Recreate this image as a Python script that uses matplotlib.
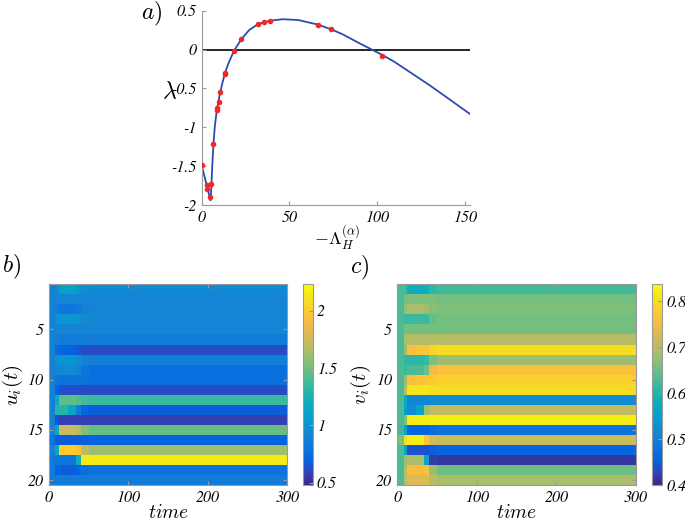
import numpy as np
import matplotlib
matplotlib.use("Agg")
import matplotlib.pyplot as plt
from matplotlib.colors import LinearSegmentedColormap

plt.rcParams['mathtext.fontset'] = 'cm'
plt.rcParams['axes.unicode_minus'] = False
plt.rcParams['font.family'] = ['STIXGeneral', 'DejaVu Serif']
plt.rcParams['font.style'] = 'italic'
plt.rcParams['font.size'] = 11

# ---------------- data: panel a ----------------
curve_x = [0, 1, 2, 3, 4, 4.6, 5.0, 5.3, 5.6, 6.0, 6.7, 7.5, 8.6, 9.6, 10.5, 12, 13.2, 15,
           18.3, 22.5, 27, 32.3, 38.8, 46, 55, 66.5, 73.8, 80, 90, 97, 103, 110, 120, 130, 140, 153]
curve_y = [-1.49, -1.58, -1.67, -1.76, -1.85, -1.90, -1.94, -1.85, -1.70, -1.50, -1.21, -0.98,
           -0.78, -0.66, -0.55, -0.41, -0.31, -0.19, -0.02, 0.13, 0.25, 0.33, 0.37, 0.39, 0.38,
           0.32, 0.26, 0.20, 0.08, 0.0, -0.07, -0.16, -0.31, -0.46, -0.62, -0.83]
pts_x = [0, 2.9, 3.2, 4.6, 5.5, 6.7, 8.6, 8.8, 9.6, 10.5, 13.0, 13.2, 18.3, 22.5, 32.3, 35.4,
         38.8, 66.5, 73.8, 103]
pts_y = [-1.49, -1.745, -1.80, -1.90, -1.73, -1.21, -0.78, -0.75, -0.67, -0.55, -0.32, -0.30,
         -0.02, 0.13, 0.33, 0.35, 0.37, 0.32, 0.26, -0.08]
a_xticks = [0, 50, 100, 150]
a_yticks = [-2, -1.5, -1, -0.5, 0, 0.5]
a_yticklabels = ['-2', '-1.5', '-1', '-0.5', '0', '0.5']

# ---------------- data: panels b, c ----------------
time_edges = [0, 8, 12, 24, 34, 40, 50, 300]
node_rows = list(range(1, 21))

u_t0 = [0.90, 0.90, 0.90, 0.90, 0.90, 0.90, 0.90, 0.90, 0.90, 0.90, 0.90, 0.90, 0.90, 0.90, 0.90, 0.80, 0.90, 0.85, 0.85, 0.85]
u_t1 = [0.95, 0.92, 0.85, 0.98, 0.92, 0.88, 0.75, 0.98, 0.92, 0.82, 0.70, 1.15, 1.30, 0.65, 1.15, 0.68, 1.15, 0.82, 0.70, 0.85]
u_t2 = [1.10, 0.92, 0.82, 1.02, 0.92, 0.86, 0.70, 1.00, 0.95, 0.80, 0.64, 1.45, 1.30, 0.58, 1.75, 0.68, 2.00, 0.82, 0.68, 0.85]
u_t3 = [1.10, 0.92, 0.82, 1.02, 0.92, 0.86, 0.70, 1.00, 0.95, 0.80, 0.62, 1.45, 1.15, 0.58, 1.75, 0.68, 2.00, 0.82, 0.68, 0.85]
u_t4 = [1.02, 0.92, 0.85, 1.00, 0.92, 0.86, 0.66, 0.96, 0.90, 0.80, 0.62, 1.42, 0.85, 0.58, 1.68, 0.68, 1.95, 1.20, 0.70, 0.85]
u_t5 = [0.97, 0.92, 0.90, 0.95, 0.92, 0.86, 0.63, 0.90, 0.82, 0.79, 0.62, 1.38, 0.72, 0.58, 1.52, 0.69, 1.68, 2.15, 0.78, 0.85]
u_fin = [0.95, 0.92, 0.92, 0.92, 0.92, 0.85, 0.62, 0.88, 0.78, 0.78, 0.62, 1.36, 0.68, 0.58, 1.47, 0.70, 1.62, 2.15, 0.80, 0.85]

v_t0 = [0.63, 0.63, 0.63, 0.63, 0.63, 0.63, 0.63, 0.63, 0.63, 0.63, 0.63, 0.63, 0.63, 0.63, 0.62, 0.66, 0.63, 0.63, 0.63, 0.63]
v_t1 = [0.62, 0.655, 0.67, 0.62, 0.655, 0.69, 0.68, 0.61, 0.62, 0.68, 0.70, 0.57, 0.55, 0.66, 0.56, 0.80, 0.56, 0.68, 0.70, 0.70]
v_t2 = [0.58, 0.66, 0.69, 0.62, 0.655, 0.70, 0.76, 0.61, 0.63, 0.76, 0.81, 0.51, 0.52, 0.82, 0.46, 0.82, 0.44, 0.69, 0.76, 0.73]
v_t3 = [0.58, 0.66, 0.69, 0.62, 0.655, 0.70, 0.77, 0.61, 0.63, 0.77, 0.81, 0.51, 0.56, 0.82, 0.46, 0.82, 0.44, 0.69, 0.76, 0.73]
v_t4 = [0.58, 0.66, 0.68, 0.62, 0.655, 0.70, 0.77, 0.62, 0.65, 0.77, 0.81, 0.51, 0.68, 0.82, 0.46, 0.77, 0.44, 0.56, 0.76, 0.73]
v_t5 = [0.61, 0.66, 0.665, 0.645, 0.655, 0.70, 0.79, 0.66, 0.75, 0.78, 0.80, 0.515, 0.71, 0.82, 0.47, 0.72, 0.45, 0.42, 0.68, 0.70]
v_fin = [0.625, 0.655, 0.66, 0.655, 0.655, 0.70, 0.80, 0.68, 0.765, 0.785, 0.80, 0.52, 0.71, 0.82, 0.48, 0.715, 0.46, 0.415, 0.65, 0.69]

heat_xticks = [0, 100, 200, 300]
heat_yticks = [5, 10, 15, 20]
u_cticks = [0.5, 1, 1.5, 2]
u_cticklabels = ['0.5', '1', '1.5', '2']
v_cticks = [0.4, 0.5, 0.6, 0.7, 0.8]
v_cticklabels = ['0.4', '0.5', '0.6', '0.7', '0.8']

# ---------------- parula-like colormap ----------------
parula_pts = [
    (0.2081, 0.1663, 0.5292), (0.1959, 0.2645, 0.7279), (0.0117, 0.3875, 0.8820),
    (0.0498, 0.4586, 0.8641), (0.0793, 0.5200, 0.8312), (0.0343, 0.5966, 0.8199),
    (0.0228, 0.6535, 0.7768), (0.0843, 0.6928, 0.7062), (0.2178, 0.7250, 0.6193),
    (0.3953, 0.7459, 0.5244), (0.5709, 0.7485, 0.4494), (0.7184, 0.7411, 0.3905),
    (0.8507, 0.7299, 0.3360), (0.9739, 0.7314, 0.2666), (0.9880, 0.8066, 0.1794),
    (0.9589, 0.8949, 0.1132), (0.9763, 0.9831, 0.0538)]
parula = LinearSegmentedColormap.from_list('parula', parula_pts, N=256)

spine_col = '#9a9a9a'

fig = plt.figure(figsize=(6.85, 5.21), dpi=100)

# ---------------- panel a ----------------
ax = fig.add_axes([0.2945, 0.6065, 0.3917, 0.373])
ax.plot(curve_x, curve_y, color='#2c4bb0', lw=1.3, zorder=2)
ax.axhline(0, color='black', lw=1.2, zorder=1)
ax.plot(pts_x, pts_y, 'o', color='#f02828', ms=4, mec='none', zorder=3)
ax.set_xlim(0, 153)
ax.set_ylim(-2, 0.5)
ax.set_xticks(a_xticks)
ax.set_yticks(a_yticks)
ax.set_yticklabels(a_yticklabels)
for s in ['top', 'right']:
    ax.spines[s].set_visible(False)
for s in ['left', 'bottom']:
    ax.spines[s].set_color(spine_col)
    ax.spines[s].set_linewidth(0.8)
ax.tick_params(direction='in', length=3, color=spine_col, pad=4, labelsize=11.5)
fig.text(170 / 685, 1 - 92 / 521, r'$\lambda$', fontsize=17, ha='center', va='center')
fig.text(337 / 685, 1 - 238 / 521, r'$-\Lambda_H^{(\alpha)}$', fontsize=13, ha='center', va='center')
fig.text(152 / 685, 1 - 14 / 521, r'$a)$', fontsize=17, ha='center', va='center')


def heat(rect, crect, rows, vmin, vmax, cticks, cticklabels, ylabel, panel, ppos):
    axh = fig.add_axes(rect)
    Z = np.array(rows).T
    yedges = np.arange(0.5, len(node_rows) + 1, 1.0)
    m = axh.pcolormesh(time_edges, yedges, Z, cmap=parula, vmin=vmin, vmax=vmax,
                       shading='flat', antialiased=False, linewidth=0, rasterized=True)
    axh.set_xlim(0, 300)
    axh.set_ylim(20.5, 0.5)
    axh.set_xticks(heat_xticks)
    axh.set_yticks(heat_yticks)
    for s in axh.spines.values():
        s.set_color(spine_col)
        s.set_linewidth(0.8)
    axh.tick_params(direction='in', length=3, color=spine_col, top=True, right=True, pad=4,
                    labelsize=11.5)
    axh.set_xlabel(r'$time$', fontsize=14, labelpad=-1)
    axh.set_ylabel(ylabel, fontsize=15, labelpad=2)
    cax = fig.add_axes(crect)
    cb = fig.colorbar(m, cax=cax, ticks=cticks)
    cb.ax.set_yticklabels(cticklabels)
    cb.outline.set_edgecolor(spine_col)
    cb.outline.set_linewidth(0.8)
    cax.tick_params(direction='in', length=3, color=spine_col, pad=3, labelsize=11.5)
    fig.text(ppos[0] / 685, 1 - ppos[1] / 521, panel, fontsize=17, ha='center', va='center')


u_cols = [u_t0, u_t1, u_t2, u_t3, u_t4, u_t5, u_fin]
v_cols = [v_t0, v_t1, v_t2, v_t3, v_t4, v_t5, v_fin]

heat([0.0715, 0.0691, 0.348, 0.3852], [0.4428, 0.0691, 0.0137, 0.3852], u_cols,
     0.48, 2.23, u_cticks, u_cticklabels, r'$u_i(t)$', r'$b)$', (12, 267))
heat([0.580, 0.0691, 0.3485, 0.3852], [0.9523, 0.0691, 0.0142, 0.3852], v_cols,
     0.40, 0.837, v_cticks, v_cticklabels, r'$v_i(t)$', r'$c)$', (360, 268))

fig.savefig('out.png', dpi=100)
